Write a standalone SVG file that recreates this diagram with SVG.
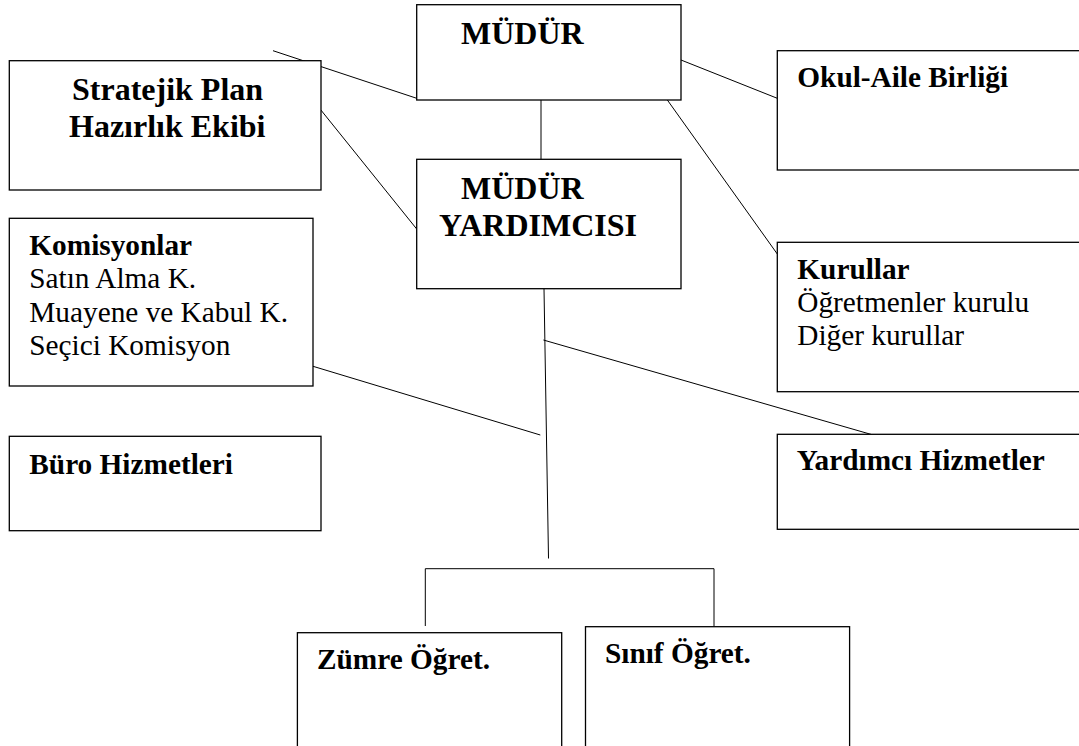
<svg xmlns="http://www.w3.org/2000/svg" width="1079" height="746" viewBox="0 0 1079 746" font-family="Liberation Serif, Times New Roman, serif">
<rect width="1079" height="746" fill="#fff"/>
<g id="connectors" fill="none" stroke="#000" stroke-width="1">
<line x1="273" y1="50.7" x2="416.7" y2="98.3"/>
<line x1="313.4" y1="100.7" x2="416.7" y2="229"/>
<line x1="681" y1="60" x2="777.3" y2="98.3"/>
<line x1="665.7" y1="97.7" x2="777.3" y2="254"/>
<line x1="541" y1="100" x2="541" y2="159.3"/>
<line x1="544" y1="288.7" x2="548.5" y2="558.5"/>
<line x1="228.3" y1="340.7" x2="540.3" y2="435"/>
<line x1="543.4" y1="340" x2="876.7" y2="436"/>
<polyline points="425.3,626 425.3,568.7 714,568.7 714,626.7"/>
</g>
<g id="mudur">
<rect x="416.7" y="4.7" width="264.3" height="95.3" fill="#fff" stroke="#000" stroke-width="1.3"/>
<text x="461" y="44" font-size="32" font-weight="bold">MÜDÜR</text>
</g>
<g id="stratejik">
<rect x="9.3" y="60.7" width="311.7" height="129.3" fill="#fff" stroke="#000" stroke-width="1.3"/>
<text x="72" y="100" font-size="32" font-weight="bold">Stratejik Plan</text>
<text x="69" y="136.7" font-size="32" font-weight="bold">Hazırlık Ekibi</text>
</g>
<g id="okul-aile">
<rect x="777.3" y="50.7" width="310" height="119.3" fill="#fff" stroke="#000" stroke-width="1.3"/>
<text x="797.3" y="86.7" font-size="29.3" font-weight="bold">Okul-Aile Birliği</text>
</g>
<g id="mudur-yardimcisi">
<rect x="416.7" y="159.3" width="264.3" height="129.4" fill="#fff" stroke="#000" stroke-width="1.3"/>
<text x="461" y="199.3" font-size="32" font-weight="bold">MÜDÜR</text>
<text x="439" y="236" font-size="32" font-weight="bold">YARDIMCISI</text>
</g>
<g id="komisyonlar">
<rect x="9.3" y="218.3" width="303.7" height="167.7" fill="#fff" stroke="#000" stroke-width="1.3"/>
<text x="29.3" y="255" font-size="29.3" font-weight="bold">Komisyonlar</text>
<text x="29.3" y="288" font-size="29.3">Satın Alma K.</text>
<text x="29.3" y="321.7" font-size="29.3">Muayene ve Kabul K.</text>
<text x="29.3" y="355" font-size="29.3">Seçici Komisyon</text>
</g>
<g id="kurullar">
<rect x="777.3" y="242.3" width="310" height="149.4" fill="#fff" stroke="#000" stroke-width="1.3"/>
<text x="797.3" y="279.3" font-size="29.3" font-weight="bold">Kurullar</text>
<text x="797.3" y="312.3" font-size="29.3">Öğretmenler kurulu</text>
<text x="797.3" y="345.3" font-size="29.3">Diğer kurullar</text>
</g>
<g id="buro">
<rect x="9.3" y="436.3" width="311.7" height="94.4" fill="#fff" stroke="#000" stroke-width="1.3"/>
<text x="29.3" y="474" font-size="29.3" font-weight="bold">Büro Hizmetleri</text>
</g>
<g id="yardimci-hizmetler">
<rect x="777.3" y="434.3" width="310" height="95" fill="#fff" stroke="#000" stroke-width="1.3"/>
<text x="796.7" y="470" font-size="29.3" font-weight="bold">Yardımcı Hizmetler</text>
</g>
<g id="zumre">
<rect x="297.4" y="632.7" width="264.3" height="130" fill="#fff" stroke="#000" stroke-width="1.3"/>
<text x="317" y="669.3" font-size="29.3" font-weight="bold">Zümre Öğret.</text>
</g>
<g id="sinif">
<rect x="585.5" y="626.7" width="264.1" height="136" fill="#fff" stroke="#000" stroke-width="1.3"/>
<text x="605" y="662.7" font-size="29.3" font-weight="bold">Sınıf Öğret.</text>
</g>
</svg>
